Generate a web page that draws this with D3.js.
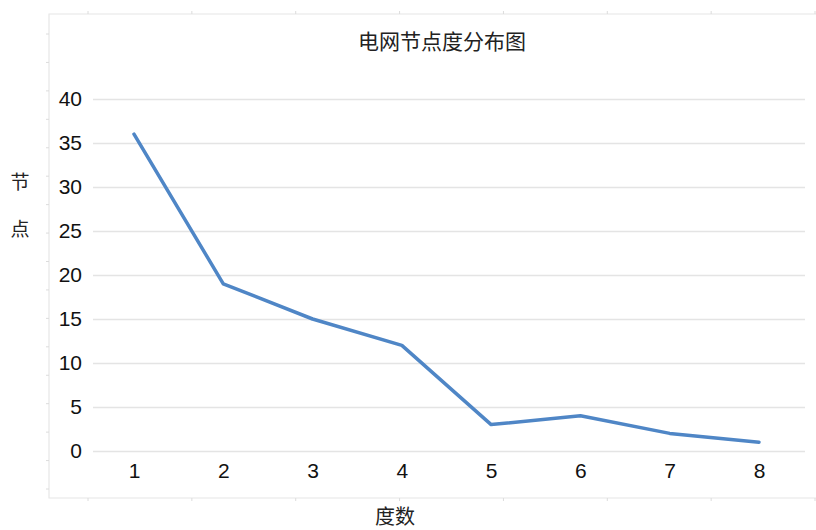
<!DOCTYPE html>
<html>
<head>
<meta charset="utf-8">
<script src="https://cdn.jsdelivr.net/npm/d3@7/dist/d3.min.js"></script>
<style>
  html, body { margin: 0; padding: 0; background: #fff; }
  svg { display: block; }
</style>
</head>
<body>
<svg id="chart" width="816" height="530"></svg>
<script>
// Node degree distribution of the power grid
const degrees = [1, 2, 3, 4, 5, 6, 7, 8];
const nodeCounts = [36, 19, 15, 12, 3, 4, 2, 1];
const yTicks = [0, 5, 10, 15, 20, 25, 30, 35, 40];
const titleText = "电网节点度分布图";
const xTitle = "度数";
const yTitleChars = ["节", "点"];

const svg = d3.select("#chart");
const W = 816, H = 530;

const x = d3.scalePoint().domain(degrees).range([134, 759]);
const y = d3.scaleLinear().domain([0, 40]).range([451, 99]);

const cjk = "'Noto Sans CJK SC', 'Noto Sans', sans-serif";
const latin = "Arial, 'Liberation Sans', sans-serif";

// faint outer frame with small ticks
const frame = svg.append("g");
frame.append("path")
  .attr("d", `M${W},14H49V498H${W}`)
  .attr("fill", "none").attr("stroke", "#e6e6e6").attr("stroke-width", 1.2);
const frameX = d3.scaleLinear().domain([0, 7]).range([88, 815]);
d3.range(8).forEach(i => {
  const px = frameX(i);
  frame.append("line").attr("x1", px).attr("x2", px).attr("y1", 11).attr("y2", 14)
    .attr("stroke", "#dcdcdc");
  frame.append("line").attr("x1", px).attr("x2", px).attr("y1", 498).attr("y2", 501)
    .attr("stroke", "#dcdcdc");
});
const frameY = d3.scaleLinear().domain([0, 16]).range([34, 489]);
d3.range(17).forEach(i => {
  const py = frameY(i);
  frame.append("line").attr("x1", 46).attr("x2", 49).attr("y1", py).attr("y2", py)
    .attr("stroke", "#dcdcdc");
});

// horizontal gridlines and y labels
const yAxis = d3.axisLeft(y).tickValues(yTicks).tickSize(-(805 - 93)).tickPadding(11);
const gy = svg.append("g").attr("transform", "translate(93,0)").call(yAxis);
gy.select(".domain").remove();
gy.selectAll(".tick line").attr("stroke", "#e4e4e4").attr("stroke-width", 1.3);
gy.selectAll(".tick text")
  .attr("font-family", latin).attr("font-size", 21).attr("fill", "#111");

// x labels
const xAxis = d3.axisBottom(x).tickSize(0).tickPadding(0);
const gx = svg.append("g").attr("transform", "translate(0,463)").call(xAxis);
gx.select(".domain").remove();
gx.selectAll(".tick text")
  .attr("font-family", latin).attr("font-size", 21).attr("fill", "#111");

// series line
const line = d3.line().x((d, i) => x(degrees[i])).y(d => y(d));
svg.append("path")
  .datum(nodeCounts)
  .attr("d", line)
  .attr("fill", "none")
  .attr("stroke", "#4f86c6")
  .attr("stroke-width", 3.5)
  .attr("stroke-linejoin", "round")
  .attr("stroke-linecap", "round");

// titles
svg.append("text").attr("x", 442).attr("y", 49).attr("text-anchor", "middle")
  .attr("font-family", cjk).attr("font-size", 21).attr("fill", "#222")
  .text(titleText);
svg.append("text").attr("x", 395).attr("y", 524).attr("text-anchor", "middle")
  .attr("font-family", cjk).attr("font-size", 20).attr("fill", "#222")
  .text(xTitle);
svg.append("g").selectAll("text").data(yTitleChars).join("text")
  .attr("x", 20).attr("y", (d, i) => 189 + i * 47).attr("text-anchor", "middle")
  .attr("font-family", cjk).attr("font-size", 19).attr("fill", "#222")
  .text(d => d);
</script>
</body>
</html>
